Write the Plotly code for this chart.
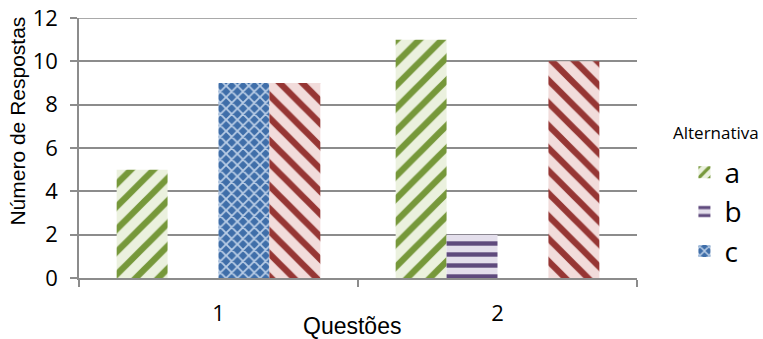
import plotly.graph_objects as go

questions = ["1", "2"]
alt_a = [5, 11]
alt_b = [0, 2]
alt_c = [9, 0]
alt_d = [9, 10]
y_ticks = [0, 2, 4, 6, 8, 10, 12]

# name, values, pattern shape, stripe colour, background colour, tile size, legend
series = [
    ("a", alt_a, "/", "#76983a", "#ebf1de", 16, True),
    ("b", alt_b, "-", "#5f4a7d", "#e4dfec", 11, True),
    ("c", alt_c, "x", "#b9cde6", "#3f6ea9", 8, True),
    ("d", alt_d, "\\", "#963634", "#f2dcdb", 16, False),
]

fig = go.Figure()
for name, vals, shape, fg, bg, size, show in series:
    fig.add_trace(go.Bar(
        name=name, x=questions, y=vals, showlegend=show,
        marker=dict(
            color=bg, line=dict(width=0),
            pattern=dict(shape=shape, fgcolor=fg, bgcolor=bg, size=size,
                         solidity=0.4, fgopacity=1, fillmode="overlay"),
        ),
    ))

grey = "#8c8c8c"
tick_font = dict(family="Open Sans, Liberation Sans, Arial", size=22, color="#000")
title_font = dict(family="Liberation Sans, Arial", size=22, color="#000")

fig.update_layout(
    width=763, height=339,
    margin=dict(l=79, r=126, t=18, b=61, autoexpand=False),
    barmode="group", bargap=0.27, bargroupgap=0,
    plot_bgcolor="white", paper_bgcolor="white",
    font=dict(family="Liberation Sans, Arial", color="#000"),
    xaxis=dict(
        type="category", tickson="boundaries", ticks="outside", ticklen=7,
        tickcolor=grey, tickwidth=1.5, showline=True, linecolor=grey,
        linewidth=1.5, showgrid=False, tickfont=tick_font, ticklabelstandoff=15,
        automargin=False,
    ),
    yaxis=dict(
        range=[0, 12], tickvals=y_ticks, ticks="outside", ticklen=7,
        tickcolor=grey, tickwidth=1.5, showline=True, linecolor=grey,
        linewidth=1.5, showgrid=True, gridcolor=grey, gridwidth=1.5,
        tickfont=tick_font, zeroline=False, ticklabelstandoff=8,
        automargin=False,
    ),
    legend=dict(
        font=dict(family="Open Sans, Arial", size=28),
        x=1.085, y=0.254, xanchor="left", yanchor="middle",
        itemwidth=30, tracegroupgap=0,
    ),
    shapes=[
        # top gridline at the upper end of the value range
        dict(type="line", xref="paper", x0=-0.0125, x1=1, yref="y",
             y0=y_ticks[-1], y1=y_ticks[-1], layer="below",
             line=dict(color=grey, width=1.5)),
    ],
    annotations=[
        dict(text="Número de Respostas", textangle=-90, x=-0.11, xanchor="center",
             xref="paper", y=0.604, yref="paper", yanchor="middle",
             showarrow=False, font=dict(family="Liberation Sans, Arial", size=21)),
        dict(text="Questões", x=0.489, xref="paper", y=-0.185, yref="paper",
             yanchor="middle", showarrow=False,
             font=dict(family="Liberation Sans, Arial", size=23)),
        dict(text="Alternativa", x=1.1416, xref="paper", y=0.5615, yref="paper",
             xanchor="center", yanchor="middle", showarrow=False,
             font=dict(family="Open Sans, Arial", size=17)),
    ],
)

fig.write_html("out.html")
